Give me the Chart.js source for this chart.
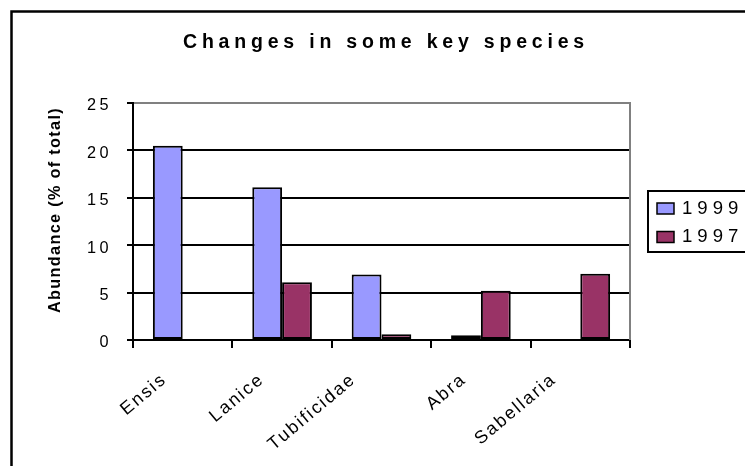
<!DOCTYPE html>
<html>
<head>
<meta charset="utf-8">
<script src="https://cdn.jsdelivr.net/npm/chart.js@4/dist/chart.umd.min.js"></script>
<style>
  html, body { margin: 0; padding: 0; background: #fff; }
  #wrap { width: 745px; height: 466px; }
</style>
</head>
<body>
<div id="wrap"><canvas id="c" width="745" height="466"></canvas></div>
<script>
// Species groups and their share of the total abundance (%)
const species = ['Ensis', 'Lanice', 'Tubificidae', 'Abra', 'Sabellaria'];
const abundance1999 = [20.5, 16.1, 6.9, 0.5, 0];
const abundance1997 = [0, 6.1, 0.6, 5.2, 7.0];
const seriesNames = ['1999', '1997'];
const seriesColors = ['#9999FF', '#993366'];
const yTickValues = [0, 5, 10, 15, 20, 25];
const chartTitle = 'Changes in some key species';
const yAxisTitle = 'Abundance (% of total)';

const FONT = '"Liberation Sans", Arial, sans-serif';

// empty categories get no bar at all
const asBars = arr => arr.map(v => (v === 0 ? null : v));

const decorations = {
  id: 'decorations',
  beforeDraw(chart) {
    const ctx = chart.ctx;
    ctx.save();
    ctx.fillStyle = '#fff';
    ctx.fillRect(0, 0, chart.width, chart.height);
    // outer frame of the chart
    ctx.strokeStyle = '#000';
    ctx.lineWidth = 2.5;
    ctx.beginPath();
    ctx.moveTo(11.5, chart.height + 5);
    ctx.lineTo(11.5, 11.5);
    ctx.lineTo(chart.width + 5, 11.5);
    ctx.stroke();
    ctx.restore();
    // wide glyph spacing used by the value axis labels
    ctx.letterSpacing = '3.5px';
  },
  afterDraw(chart) {
    const { ctx, chartArea: a } = chart;
    const x = chart.scales.x;
    ctx.save();

    // right edge of the plot area
    ctx.strokeStyle = '#808080';
    ctx.lineWidth = 2;
    ctx.beginPath();
    ctx.moveTo(a.right, a.top - 1);
    ctx.lineTo(a.right, a.bottom);
    ctx.stroke();

    ctx.fillStyle = '#000';

    // chart title
    ctx.letterSpacing = '4.8px';
    ctx.font = 'bold 19.5px ' + FONT;
    ctx.textAlign = 'center';
    ctx.textBaseline = 'alphabetic';
    ctx.fillText(chartTitle, 386, 48);

    // value axis title
    ctx.save();
    ctx.letterSpacing = '1.3px';
    ctx.font = 'bold 16.3px ' + FONT;
    ctx.translate(56, 210);
    ctx.rotate(-Math.PI / 2);
    ctx.textAlign = 'center';
    ctx.textBaseline = 'middle';
    ctx.fillText(yAxisTitle, 0, 0);
    ctx.restore();

    // slanted category labels
    ctx.letterSpacing = '2px';
    ctx.font = '18px ' + FONT;
    ctx.textAlign = 'right';
    ctx.textBaseline = 'alphabetic';
    chart.data.labels.forEach((label, i) => {
      const cx = x.getPixelForValue(i);
      const w = ctx.measureText(label).width;
      ctx.save();
      ctx.translate(cx - 5.5 - 0.177 * w, a.bottom + 41);
      ctx.rotate(-40 * Math.PI / 180);
      ctx.fillText(label, 0, 0);
      ctx.restore();
    });

    // legend
    ctx.lineWidth = 2;
    ctx.strokeStyle = '#000';
    ctx.strokeRect(648, 191, 130, 61);
    ctx.letterSpacing = '5px';
    ctx.font = '18.6px ' + FONT;
    ctx.textAlign = 'left';
    ctx.textBaseline = 'middle';
    chart.data.datasets.forEach((ds, i) => {
      const sy = 203 + i * 28.5;
      ctx.fillStyle = ds.backgroundColor;
      ctx.fillRect(657, sy, 17, 11);
      ctx.lineWidth = 1.5;
      ctx.strokeRect(657, sy, 17, 11);
      ctx.fillStyle = '#000';
      ctx.fillText(ds.label, 682, sy + 5.5);
    });

    ctx.restore();
  }
};

new Chart(document.getElementById('c'), {
  type: 'bar',
  data: {
    labels: species,
    datasets: [
      {
        label: seriesNames[0],
        data: asBars(abundance1999),
        backgroundColor: seriesColors[0],
        borderColor: '#000',
        borderWidth: 2,
        borderSkipped: false
      },
      {
        label: seriesNames[1],
        data: asBars(abundance1997),
        backgroundColor: seriesColors[1],
        borderColor: '#000',
        borderWidth: 2,
        borderSkipped: false
      }
    ]
  },
  options: {
    responsive: false,
    animation: false,
    devicePixelRatio: 1,
    events: [],
    categoryPercentage: 0.6,
    barPercentage: 1.0,
    layout: { padding: { top: 103, right: 115, left: 0, bottom: 0 } },
    plugins: {
      legend: { display: false },
      title: { display: false },
      tooltip: { enabled: false }
    },
    scales: {
      x: {
        grid: {
          display: true,
          offset: true,
          drawOnChartArea: false,
          drawTicks: true,
          tickLength: 8,
          color: '#000',
          lineWidth: 2
        },
        border: { display: true, color: '#000', width: 2 },
        ticks: { display: false },
        afterFit(scale) { scale.height = 126; }
      },
      y: {
        min: 0,
        max: 25,
        afterBuildTicks(scale) {
          scale.ticks = yTickValues.map(v => ({ value: v }));
        },
        grid: {
          color: c => (c.tick && c.tick.value === 25 ? '#808080' : '#000'),
          tickColor: '#000',
          lineWidth: 2,
          tickLength: 6
        },
        border: { display: true, color: '#000', width: 2 },
        ticks: {
          color: '#000',
          font: { family: FONT, size: 16.3 },
          padding: 15,
          labelOffset: 3
        },
        afterFit(scale) { scale.width = 133; }
      }
    }
  },
  plugins: [decorations]
});
</script>
</body>
</html>
